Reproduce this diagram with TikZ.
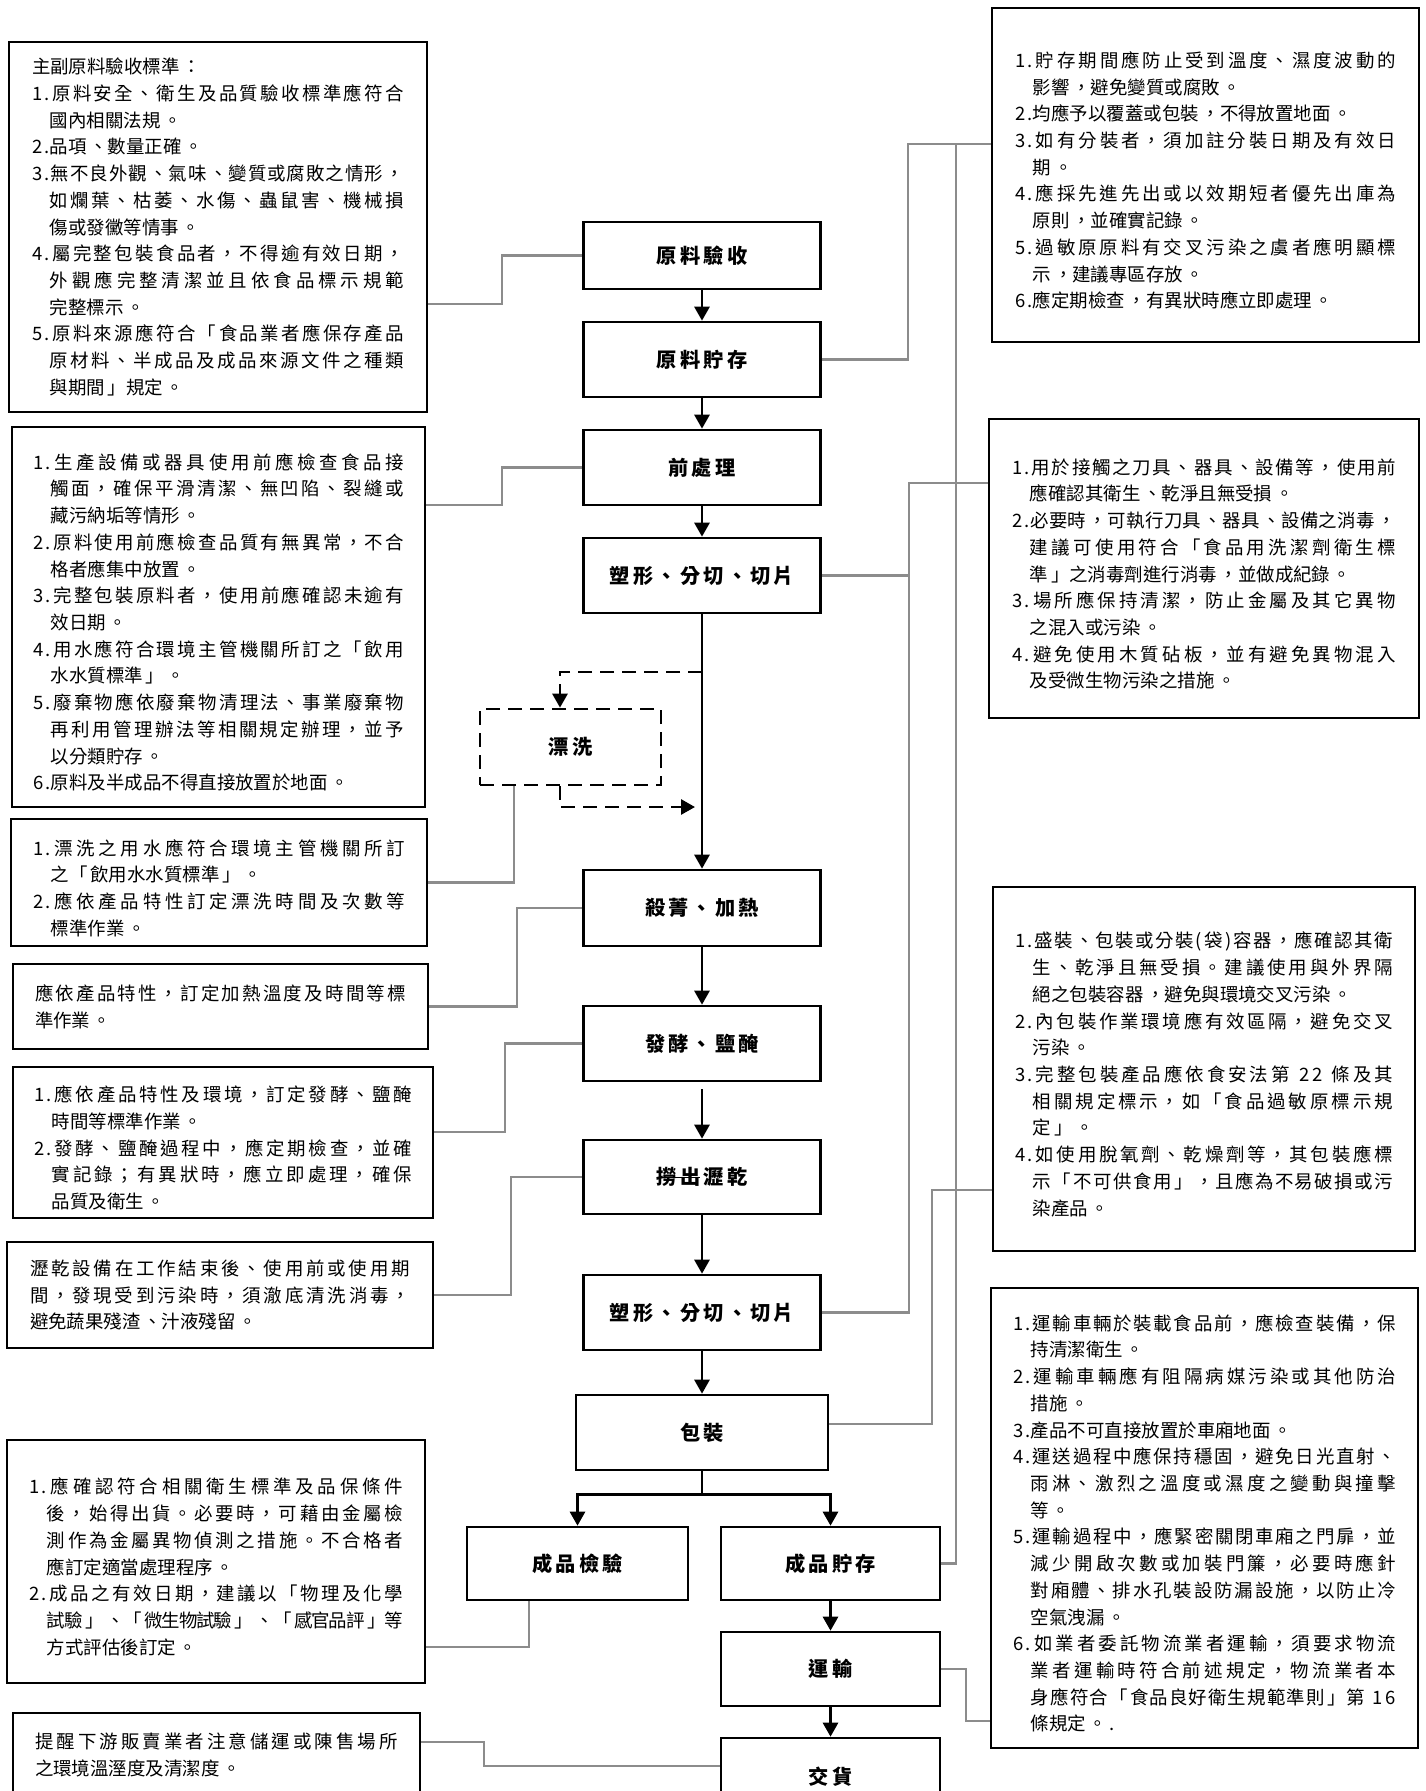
\documentclass[tikz,border=0pt]{standalone}
\usepackage{fontspec}
\usepackage{tikz}
\usetikzlibrary{arrows.meta, positioning, calc}

\setmainfont{Noto Sans CJK TC}
\newfontfamily\bodyfont{Noto Sans CJK TC}[LetterSpace=14]
\newfontfamily\titlefont{Noto Sans CJK TC}[LetterSpace=16]
\XeTeXlinebreaklocale "zh"
\XeTeXlinebreakskip=0pt plus 2pt minus 1pt
\XeTeXlinebreakpenalty=10000
\definecolor{linkgray}{RGB}{140,140,140}
\newlength{\hangw}
\newlength{\strikew}
\newcommand{\li}{\par\settowidth{\hangw}{1.}\hangindent=\hangw\hangafter=1\noindent}
\newcommand{\strike}[1]{\settowidth{\strikew}{#1}\rlap{\rule[0.32em]{\strikew}{0.7pt}}#1}

\begin{document}
\begin{tikzpicture}[
  stepbox/.style  = {draw, line width=1.5pt, minimum width=4.74cm,
                     minimum height=1.50cm, align=center,
                     font=\titlefont\bfseries\fontsize{11.5}{14}\selectfont},
  washbox/.style  = {stepbox, dash pattern=on 0.28cm off 0.16cm,
                     minimum width=3.62cm, minimum height=1.52cm},
  notebox/.style  = {draw, line width=1.5pt, align=justify, inner ysep=0pt,
                     font=\bodyfont\fontsize{10.5}{15.2}\selectfont},
  arr/.style      = {->, line width=1.6pt, >={Triangle[length=0.28cm, width=0.30cm]}},
  darr/.style     = {arr, dash pattern=on 0.28cm off 0.16cm},
  link/.style     = {draw=linkgray, line width=1.3pt},
]
\useasboundingbox (0,0) rectangle (28.52,-35.82);

%% ── FLUJO PRINCIPAL ───────────────────────────────────────────────────────
\node[stepbox, minimum height=1.34cm] (recv) at (14.04, -5.11) {原料驗收};
\node[stepbox] (store)  at (14.04, -7.19) {原料貯存};
\node[stepbox] (prep)   at (14.04, -9.35) {前處理};
\node[stepbox] (shape1) at (14.04,-11.51) {塑形、分切、切片};
\node[washbox] (rinse)  at (11.41,-14.94) {漂洗};
\node[stepbox, minimum height=1.52cm] (blanch) at (14.04,-18.16) {殺菁、加熱};
\node[stepbox] (ferm)   at (14.04,-20.87) {發酵、鹽醃};
\node[stepbox, minimum height=1.48cm] (drain) at (14.04,-23.54) {\strike{撈出}瀝乾};
\node[stepbox] (shape2) at (14.04,-26.25) {塑形、分切、切片};
\node[stepbox, minimum width=5.04cm] (pack) at (14.04,-28.65) {包裝};
\node[stepbox, minimum width=4.42cm, minimum height=1.46cm] (inspect) at (11.55,-31.27) {成品檢驗};
\node[stepbox, minimum width=4.38cm, minimum height=1.46cm] (fstore)  at (16.61,-31.27) {成品貯存};
\node[stepbox, minimum width=4.38cm, minimum height=1.48cm] (trans)   at (16.61,-33.38) {運輸};
\node[stepbox, minimum width=4.38cm, minimum height=1.54cm] (deliv)   at (16.61,-35.53) {交貨};

\draw[arr] (recv.south)   -- (store.north);
\draw[arr] (store.south)  -- (prep.north);
\draw[arr] (prep.south)   -- (shape1.north);
\draw[arr] (shape1.south) -- (blanch.north);
\draw[arr] (blanch.south) -- (ferm.north);
\draw[arr] ([yshift=-0.14cm]ferm.south) -- (drain.north);
\draw[arr] (drain.south)  -- (shape2.north);
\draw[arr] (shape2.south) -- (pack.north);

%% Flechas: envasado → inspección / almacén (bifurcación)
\draw[arr] (pack.south) -- ++(0,-0.46) -| (inspect.north);
\draw[arr] (pack.south) -- ++(0,-0.46) -| (fstore.north);
\draw[arr] (fstore.south) -- (trans.north);
\draw[arr] (trans.south)  -- (deliv.north);

%% Lazo opcional de enjuague
\coordinate (washin)  at (14.04,-13.44);
\coordinate (washout) at (13.90,-16.14);
\draw[darr] (washin) -| ([xshift=-0.21cm]rinse.north);
\draw[darr] ([xshift=-0.21cm]rinse.south) |- (washout);

%% ── NOTAS IZQUIERDA ───────────────────────────────────────────────────────
\node[notebox, text width=7.44cm, inner xsep=0.46cm, minimum height=7.40cm]
     (recvnote) at (4.36,-4.54)
     {主副原料驗收標準：
      \li 1.原料安全、衛生及品質驗收標準應符合\linebreak
      國內相關法規。
      \li 2.品項、數量正確。
      \li 3.無不良外觀、氣味、變質或腐敗之情形，\linebreak
      如爛葉、枯萎、水傷、蟲鼠害、機械損\linebreak
      傷或發黴等情事。
      \li 4.屬完整包裝食品者，不得逾有效日期，\linebreak
      外觀應完整清潔並且依食品標示規範\linebreak
      完整標示。
      \li 5.原料來源應符合「食品業者應保存產品\linebreak
      原材料、半成品及成品來源文件之種類\linebreak
      與期間」規定。\par};

\node[notebox, text width=7.42cm, inner xsep=0.42cm, minimum height=7.60cm]
     (prepnote) at (4.37,-12.34)
     {\li 1.生產設備或器具使用前應檢查食品接\linebreak
      觸面，確保平滑清潔、無凹陷、裂縫或\linebreak
      藏污納垢等情形。
      \li 2.原料使用前應檢查品質有無異常，不合\linebreak
      格者應集中放置。
      \li 3.完整包裝原料者，使用前應確認未逾有\linebreak
      效日期。
      \li 4.用水應符合環境主管機關所訂之「飲用\linebreak
      水水質標準」。
      \li 5.廢棄物應依廢棄物清理法、事業廢棄物\linebreak
      再利用管理辦法等相關規定辦理，並予\linebreak
      以分類貯存。
      \li 6.原料及半成品不得直接放置於地面。\par};

\node[notebox, text width=7.44cm, inner xsep=0.44cm, minimum height=2.54cm]
     (rinsenote) at (4.38,-17.65)
     {\li 1.漂洗之用水應符合環境主管機關所訂\linebreak
      之「飲用水水質標準」。
      \li 2.應依產品特性訂定漂洗時間及次數等\linebreak
      標準作業。\par};

\node[notebox, text width=7.42cm, inner xsep=0.44cm, minimum height=1.70cm]
     (blanchnote) at (4.41,-20.13)
     {應依產品特性，訂定加熱溫度及時間等標\linebreak
      準作業。\par};

\node[notebox, text width=7.56cm, inner xsep=0.42cm, minimum height=3.02cm]
     (fermnote) at (4.46,-22.85)
     {\li 1.應依產品特性及環境，訂定發酵、鹽醃\linebreak
      時間等標準作業。
      \li 2.發酵、鹽醃過程中，應定期檢查，並確\linebreak
      實記錄；有異狀時，應立即處理，確保\linebreak
      品質及衛生。\par};

\node[notebox, text width=7.60cm, inner xsep=0.46cm, minimum height=2.12cm]
     (drainnote) at (4.40,-25.90)
     {瀝乾設備在工作結束後、使用前或使用期\linebreak
      間，發現受到污染時，須澈底清洗消毒，\linebreak
      避免蔬果殘渣、汁液殘留。\par};

\node[notebox, text width=7.48cm, inner xsep=0.44cm, minimum height=4.86cm]
     (inspnote) at (4.32,-31.23)
     {\li 1.應確認符合相關衛生標準及品保條件\linebreak
      後，始得出貨。必要時，可藉由金屬檢\linebreak
      測作為金屬異物偵測之措施。不合格者\linebreak
      應訂定適當處理程序。
      \li 2.成品之有效日期，建議以「物理及化學\linebreak
      試驗」、「微生物試驗」、「感官品評」等\linebreak
      方式評估後訂定。\par};

\node[notebox, text width=7.26cm, inner xsep=0.44cm, minimum height=1.68cm]
     (delivnote) at (4.33,-35.10)
     {提醒下游販賣業者注意儲運或陳售場所\linebreak
      之環境溫溼度及清潔度。\par};

%% ── NOTAS DERECHA ─────────────────────────────────────────────────────────
\node[notebox, text width=7.62cm, inner xsep=0.46cm, minimum height=6.68cm]
     (storenote) at (24.11,-3.50)
     {\li 1.貯存期間應防止受到溫度、濕度波動的\linebreak
      影響，避免變質或腐敗。
      \li 2.均應予以覆蓋或包裝，不得放置地面。
      \li 3.如有分裝者，須加註分裝日期及有效日\linebreak
      期。
      \li 4.應採先進先出或以效期短者優先出庫為\linebreak
      原則，並確實記錄。
      \li 5.過敏原原料有交叉污染之虞者應明顯標\linebreak
      示，建議專區存放。
      \li 6.應定期檢查，有異狀時應立即處理。\par};

\node[notebox, text width=7.68cm, inner xsep=0.46cm, minimum height=5.98cm]
     (shapenote) at (24.08,-11.37)
     {\li 1.用於接觸之刀具、器具、設備等，使用前\linebreak
      應確認其衛生、乾淨且無受損。
      \li 2.必要時，可執行刀具、器具、設備之消毒，\linebreak
      建議可使用符合「食品用洗潔劑衛生標\linebreak
      準」之消毒劑進行消毒，並做成紀錄。
      \li 3.場所應保持清潔，防止金屬及其它異物\linebreak
      之混入或污染。
      \li 4.避免使用木質砧板，並有避免異物混入\linebreak
      及受微生物污染之措施。\par};

\node[notebox, text width=7.56cm, inner xsep=0.44cm, minimum height=7.28cm]
     (packnote) at (24.08,-21.38)
     {\li 1.盛裝、包裝或分裝(袋)容器，應確認其衛\linebreak
      生、乾淨且無受損。建議使用與外界隔\linebreak
      絕之包裝容器，避免與環境交叉污染。
      \li 2.內包裝作業環境應有效區隔，避免交叉\linebreak
      污染。
      \li 3.完整包裝產品應依食安法第~22~條及其\linebreak
      相關規定標示，如「食品過敏原標示規\linebreak
      定」。
      \li 4.如使用脫氧劑、乾燥劑等，其包裝應標\linebreak
      示「不可供食用」，且應為不易破損或污\linebreak
      染產品。\par};

\node[notebox, text width=7.66cm, inner xsep=0.44cm, minimum height=9.20cm]
     (transnote) at (24.09,-30.36)
     {\li 1.運輸車輛於裝載食品前，應檢查裝備，保\linebreak
      持清潔衛生。
      \li 2.運輸車輛應有阻隔病媒污染或其他防治\linebreak
      措施。
      \li 3.產品不可直接放置於車廂地面。
      \li 4.運送過程中應保持穩固，避免日光直射、\linebreak
      雨淋、激烈之溫度或濕度之變動與撞擊\linebreak
      等。
      \li 5.運輸過程中，應緊密關閉車廂之門扉，並\linebreak
      減少開啟次數或加裝門簾，必要時應針\linebreak
      對廂體、排水孔裝設防漏設施，以防止冷\linebreak
      空氣洩漏。
      \li 6.如業者委託物流業者運輸，須要求物流\linebreak
      業者運輸時符合前述規定，物流業者本\linebreak
      身應符合「食品良好衛生規範準則」第~16\linebreak
      條規定。.\par};

%% ── CONECTORES (gris) ─────────────────────────────────────────────────────
\draw[link] (recv.west) -- ++(-1.60,0) |- ([yshift=-1.54cm]recvnote.east);
\draw[link] (prep.west) -- ++(-1.60,0) |- ([yshift=2.24cm]prepnote.east);
\draw[link] ([xshift=-1.13cm]rinse.south) |- (rinsenote.east);
\draw[link] (blanch.west) -- ++(-1.31,0) |- (blanchnote.east);
\draw[link] (ferm.west) -- ++(-1.54,0) |- ([yshift=0.21cm]fermnote.east);
\draw[link] (drain.west) -- ++(-1.42,0) |- (drainnote.east);
\draw[link] ([xshift=-0.97cm]inspect.south) |- ([yshift=-1.71cm]inspnote.east);
\draw[link] ([yshift=0.21cm]deliv.west) -- ++(-4.72,0) |- ([yshift=0.26cm]delivnote.east);

\draw[link] (store.east) -- ++(1.72,0) |- ([yshift=0.62cm]storenote.west);
\draw[link] (fstore.east) -- ++(0.30,0) |- ([yshift=0.62cm]storenote.west);
\draw[link] (shape1.east) -- ++(1.74,0) |- ([yshift=1.71cm]shapenote.west);
\draw[link] (shape2.east) -- ++(1.74,0) |- ([yshift=1.71cm]shapenote.west);
\draw[link] ([yshift=0.17cm]pack.east) -- ++(2.06,0) |- ([yshift=-2.42cm]packnote.west);
\draw[link] (trans.east) -- ++(0.50,0) |- ([yshift=-4.06cm]transnote.west);

\end{tikzpicture}
\end{document}
